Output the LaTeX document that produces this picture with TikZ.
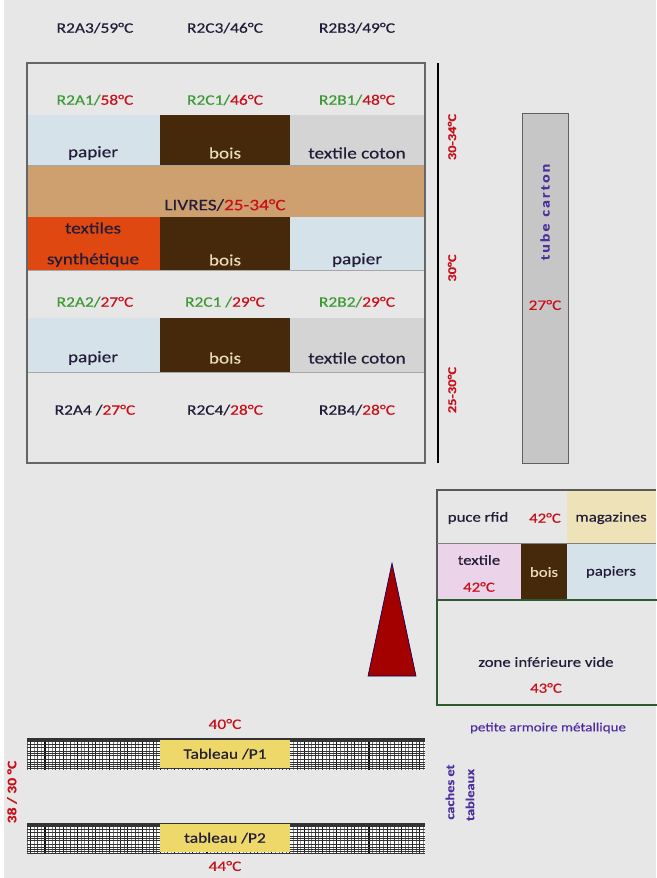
\documentclass[tikz,border=0pt]{standalone}
\usepackage{fontspec}
\setmainfont{Carlito}[FakeStretch=1.2,FakeBold=0.35]
\definecolor{bgc}{HTML}{E7E7E7}
\definecolor{lblue}{HTML}{D5E2EA}
\definecolor{brownc}{HTML}{46290A}
\definecolor{lgray}{HTML}{D4D4D4}
\definecolor{tanc}{HTML}{CFA06F}
\definecolor{orangec}{HTML}{E04812}
\definecolor{greent}{HTML}{3E9A35}
\definecolor{redt}{HTML}{C8101A}
\definecolor{darkt}{HTML}{221C38}
\definecolor{purplet}{HTML}{4E2FA0}
\definecolor{tubec}{HTML}{C6C6C6}
\definecolor{pinkc}{HTML}{EBD4EA}
\definecolor{paley}{HTML}{EEE3B8}
\definecolor{yellowc}{HTML}{EED86A}
\definecolor{triac}{HTML}{A30000}
\definecolor{greenb}{HTML}{2F5A2F}
\definecolor{boist}{HTML}{EADCB8}
\begin{document}
\begin{tikzpicture}[x=1pt,y=-1pt,
  txt/.style={inner sep=0pt, font=\fontsize{16}{18}\selectfont, text=darkt},
  tag/.style={txt, font=\fontsize{14.5}{16}\selectfont},
  atag/.style={txt, font=\fontsize{14}{16}\selectfont},
  vtag/.style={inner sep=0pt, rotate=90, font=\bfseries\fontsize{12}{14}\selectfont, text=redt},
  sep/.style={draw=gray!70, line width=0.6pt},
  panel/.style={draw=none, fill=yellowc, minimum width=130pt, minimum height=28pt, inner sep=0pt, font=\fontsize{14.5}{16}\selectfont, text=darkt}
]
\useasboundingbox (0,0) rectangle (656,878);
\fill[bgc] (0,0) rectangle (656,878);
\fill[white] (0,0) rectangle (4,878);

% ---- upper shelf labels ----
\node[tag] (a3) at (95,28) {R2A3/59°C};
\node[tag] (c3) at (225,28) {R2C3/46°C};
\node[tag] (b3) at (357,28) {R2B3/49°C};

% ---- shelf cells ----
\fill[lblue] (27,115) rectangle (160,165);
\fill[brownc] (160,115) rectangle (290,165);
\fill[lgray] (290,115) rectangle (425,165);
\fill[tanc] (27,165) rectangle (425,217);
\fill[orangec] (27,217) rectangle (160,270);
\fill[brownc] (160,217) rectangle (290,270);
\fill[lblue] (290,217) rectangle (425,270);
\fill[lblue] (27,318) rectangle (160,372);
\fill[brownc] (160,318) rectangle (290,372);
\fill[lgray] (290,318) rectangle (425,372);
\draw[sep] (27,165) -- (425,165);
\draw[sep] (27,270) -- (425,270);
\draw[sep] (27,372) -- (425,372);
\draw[gray!80!black, line width=1.6pt] (27,63) rectangle (425,463);
\draw[black, line width=1.8pt] (438,63) -- (438,463);

% row 1
\node[tag] (a1) at (95,100) {\textcolor{greent}{R2A1/}\textcolor{redt}{58°C}};
\node[tag] (c1) at (225,100) {\textcolor{greent}{R2C1/}\textcolor{redt}{46°C}};
\node[tag] (b1) at (357,100) {\textcolor{greent}{R2B1/}\textcolor{redt}{48°C}};
\node[txt] (p1) at (93,153) {papier};
\node[txt, text=boist] (w1) at (225,153) {bois};
\node[txt] (t1) at (357,153) {textile coton};
% books
\node[txt] (liv) at (225,205) {LIVRES/\textcolor{redt}{25-34°C}};
% row 3
\node[txt] (ts1) at (93,228) {textiles};
\node[txt] (ts2) at (93,260) {synthétique};
\node[txt, text=boist] (w2) at (225,260) {bois};
\node[txt] (p2) at (357,260) {papier};
% row 2 labels
\node[tag] (a2) at (95,302) {\textcolor{greent}{R2A2/}\textcolor{redt}{27°C}};
\node[tag] (c2) at (225,302) {\textcolor{greent}{R2C1 /}\textcolor{redt}{29°C}};
\node[tag] (b2) at (357,302) {\textcolor{greent}{R2B2/}\textcolor{redt}{29°C}};
\node[txt] (p3) at (93,358) {papier};
\node[txt, text=boist] (w3) at (225,358) {bois};
\node[txt] (t3) at (357,358) {textile coton};
% row 4 labels
\node[tag] (a4) at (95,410) {R2A4 /\textcolor{redt}{27°C}};
\node[tag] (c4) at (225,410) {R2C4/\textcolor{redt}{28°C}};
\node[tag] (b4) at (357,410) {R2B4/\textcolor{redt}{28°C}};

% ---- side temperatures ----
\node[vtag] (s1) at (452,137) {30-34°C};
\node[vtag] (s2) at (452,268) {30°C};
\node[vtag] (s3) at (452,390) {25-30°C};

% ---- cardboard tube ----
\fill[tubec] (522,113) rectangle (568,463);
\draw[gray!75!black, line width=1pt] (522,113) rectangle (568,463);
\node[inner sep=0pt, rotate=90, font=\bfseries\fontsize{13}{15}\selectfont, text=purplet] (tube) at (545,212) {t\,u\,b\,e\ \ c\,a\,r\,t\,o\,n};
\node[tag, text=redt] (tubet) at (545,305) {27°C};

% ---- small metal cabinet ----
\fill[paley] (567,490) rectangle (656,543);
\fill[pinkc] (437,543) rectangle (521,600);
\fill[brownc] (521,543) rectangle (567,600);
\fill[lblue] (567,543) rectangle (656,600);
\draw[gray!70!black, line width=1.3pt] (437,600) -- (437,490) -- (656,490);
\draw[gray, line width=0.8pt] (437,543) -- (656,543);
\draw[greenb, line width=1.3pt] (437,600) rectangle (660,705);
\node[atag] (rfid) at (478,518) {puce rfid};
\node[atag, text=redt] (rfidt) at (545,518) {42°C};
\node[atag] (mag) at (611,518) {magazines};
\node[atag] (tx) at (479,560) {textile};
\node[atag, text=redt] (txt2) at (479,587) {42°C};
\node[atag, text=boist] (w4) at (544,572) {bois};
\node[atag] (pap) at (611,572) {papiers};
\node[atag] (zone) at (546,662) {zone inférieure vide};
\node[atag, text=redt] (zonet) at (546,688) {43°C};
\node[tag, font=\fontsize{12.5}{14}\selectfont, text=purplet] (arm) at (548,728) {petite armoire métallique};

% ---- heat marker ----
\draw[fill=triac, draw=blue!40!black, line width=0.6pt] (392,563) -- (416,676) -- (368,676) -- cycle;

% ---- paintings on their rails (checked fabric) ----
\foreach \yt/\yb in {738/770, 823/853}{
  \fill[white] (27,\yt) rectangle (425,\yb);
  \begin{scope}
    \clip (27,\yt) rectangle (425,\yb);
    \foreach \i in {0,...,112}{
      \pgfmathsetmacro{\xx}{27+\i*3.6}
      \pgfmathsetmacro{\lw}{{0.3,1.0,0.4,0.7,0.25,1.2,0.5,0.35,0.9}[mod(\i,9)]}
      \pgfmathsetmacro{\sh}{{60,90,45,75,40,95,55,50,85}[mod(\i,9)]}
      \draw[line width=\lw pt, black!\sh] (\xx,\yt) -- (\xx,\yb);
    }
    \foreach \d/\w in {1/1.3,3/1.1,6/0.3,9/0.3,13.5/1.2,15.5/1.3,17.5/0.4,21/0.3,24/0.3,26.5/1.1,28.5/1.4,30.5/1.1}{
      \draw[line width=\w pt, black!80] (27,\yt+\d) -- (425,\yt+\d);
    }
  \end{scope}
}
\node[panel] (p1box) at (225,754) {Tableau /P1};
\node[panel] (p2box) at (225,838) {tableau /P2};
\node[tag, text=redt] (p1t) at (225,724) {40°C};
\node[tag, text=redt] (p2t) at (225,866) {44°C};
\node[vtag, font=\bfseries\fontsize{13}{15}\selectfont] (lt) at (12,792) {38 / 30 °C};
\node[inner sep=0pt, rotate=90, font=\bfseries\fontsize{12}{14}\selectfont, text=purplet] (ct1) at (450,792) {caches et};
\node[inner sep=0pt, rotate=90, font=\bfseries\fontsize{12}{14}\selectfont, text=purplet] (ct2) at (470,795) {tableaux};
\end{tikzpicture}
\end{document}
